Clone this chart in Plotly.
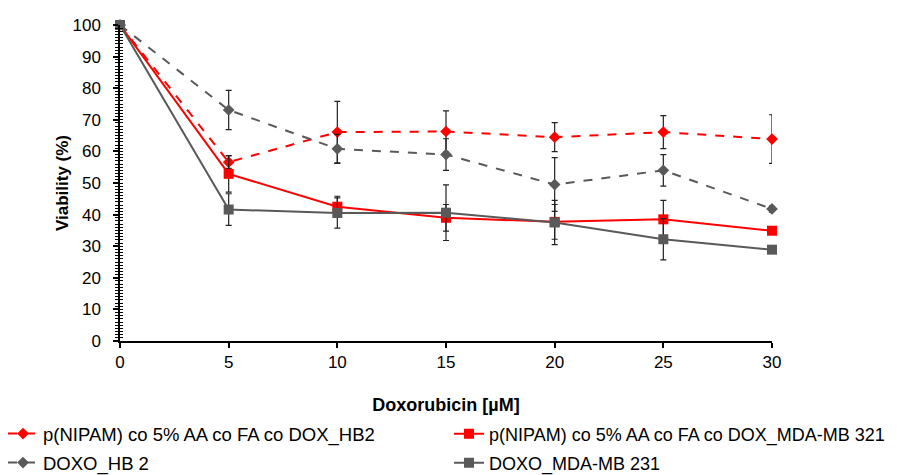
import plotly.graph_objects as go

conc = [0, 5, 10, 15, 20, 25, 30]

names = [
    "p(NIPAM) co 5% AA co FA co DOX_HB2",
    "p(NIPAM) co 5% AA co FA co DOX_MDA-MB 321",
    "DOXO_HB 2",
    "DOXO_MDA-MB 231",
]

nano_hb2 = [100, 56.6, 66.1, 66.3, 64.5, 66.1, 63.9]
nano_hb2_err = [0, 2.0, 9.7, 6.5, 4.6, 5.2, 7.7]

nano_mda = [100, 52.9, 42.5, 39.0, 37.7, 38.5, 34.9]
nano_mda_err = [0, 5.8, 3.3, 4.2, 5.5, 6.0, 1.0]

doxo_hb2 = [100, 73.1, 60.8, 59.0, 49.5, 54.0, 41.8]
doxo_hb2_err = [0, 6.2, 4.6, 5.0, 8.5, 5.0, 1.0]

doxo_mda = [100, 41.6, 40.5, 40.6, 37.5, 32.2, 28.9]
doxo_mda_err = [0, 5.0, 4.8, 8.8, 7.0, 6.5, 1.0]

RED = "#FF0000"
GRAY = "#595959"
FONT = "Liberation Sans, Arial, sans-serif"

series = [
    (names[0], nano_hb2, nano_hb2_err, RED, "dash", "diamond", 9, "legend"),
    (names[1], nano_mda, nano_mda_err, RED, "solid", "square", 10, "legend2"),
    (names[2], doxo_hb2, doxo_hb2_err, GRAY, "dash", "diamond", 9, "legend3"),
    (names[3], doxo_mda, doxo_mda_err, GRAY, "solid", "square", 10, "legend4"),
]

fig = go.Figure()
for name, vals, err, col, dash, sym, size, leg in series:
    fig.add_trace(go.Scatter(
        x=conc, y=vals, name=name, mode="lines+markers",
        line=dict(color=col, width=2, dash=dash),
        marker=dict(symbol=sym, size=size, color=col),
        error_y=dict(type="data", array=err, visible=True,
                     color="#222222", thickness=1.2, width=3),
        cliponaxis=False, legend=leg,
    ))

# invisible helper trace for inner minor ticks on the y axis
fig.add_trace(go.Scatter(x=[None], y=[None], yaxis="y2", showlegend=False,
                         hoverinfo="skip"))

# the page body adds an 8px offset; figure coordinates below compensate
OFF = 8
W, H = 897, 475
L, T = 120 - OFF, 25 - OFF
R = W - (772 - OFF)
B = H - (341 - OFF)
pw, ph = W - L - R, H - T - B


def px_x(p):
    return (p - OFF - L) / pw


def px_y(p):
    return (H - B - (p - OFF)) / ph


def leg(x, y, size):
    return dict(orientation="h", xanchor="left", yanchor="middle",
                x=px_x(x), y=px_y(y),
                font=dict(size=size, family=FONT, color="#000000"),
                itemwidth=30, bgcolor="rgba(0,0,0,0)")


fig.update_layout(
    width=W, height=H,
    margin=dict(l=L, r=R, t=T, b=B, autoexpand=False),
    paper_bgcolor="white", plot_bgcolor="white",
    font=dict(family=FONT, size=17, color="#000000"),
    showlegend=True,
    legend=leg(3, 434, 18.5),
    legend2=leg(449, 434, 18),
    legend3=leg(3, 463, 18.5),
    legend4=leg(449, 463, 18),
    yaxis2=dict(overlaying="y", range=[0, 100], showticklabels=False,
                ticks="inside", ticklen=3, tickcolor="#000000", tickwidth=1,
                dtick=10, tickmode="linear",
                minor=dict(dtick=1, ticks="inside", ticklen=3,
                           tickcolor="#000000", tickwidth=1),
                showgrid=False, zeroline=False, showline=False),
)

fig.update_xaxes(
    range=[0, 30], tickmode="array", tickvals=conc,
    showline=True, linecolor="#000000", linewidth=2,
    ticks="outside", ticklen=5, tickcolor="#000000", tickwidth=1.5,
    showgrid=False, zeroline=False,
    title=dict(text="<b>Doxorubicin [µM]</b>", standoff=27,
               font=dict(size=18, family=FONT)),
)
fig.update_layout(yaxis=dict(
    range=[0, 100], tickmode="linear", dtick=10,
    showline=True, linecolor="#000000", linewidth=1.5,
    ticks="outside", ticklen=5, tickcolor="#000000", tickwidth=1.5,
    ticklabelstandoff=9,
    minor=dict(dtick=1, ticks="outside", ticklen=3, tickcolor="#000000", tickwidth=1),
    showgrid=False, zeroline=False,
    title=dict(text="<b>Viability (%)</b>", standoff=0,
               font=dict(size=17, family=FONT)),
))

fig.write_html("out.html")
